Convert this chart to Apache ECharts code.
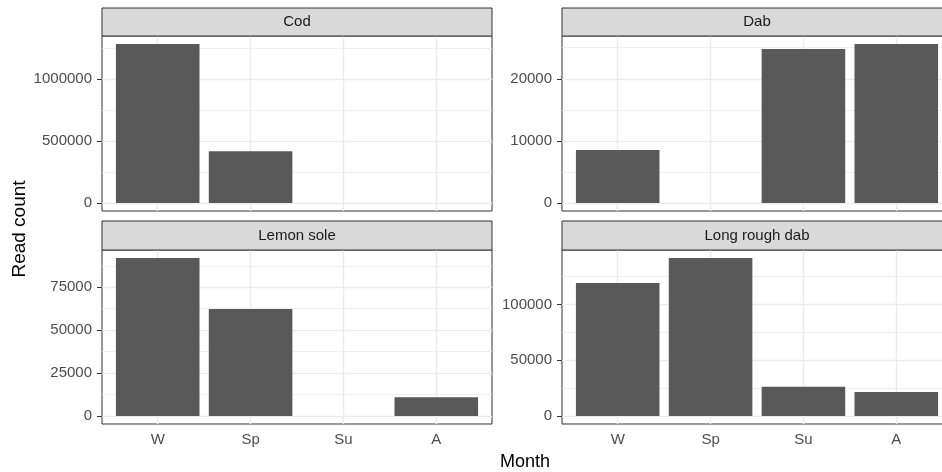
<!DOCTYPE html>
<html>
<head>
<meta charset="utf-8">
<title>Read count by month</title>
<script src="https://cdn.jsdelivr.net/npm/echarts@6/dist/echarts.min.js"></script>
<style>
  html, body { margin: 0; padding: 0; background: #fff; }
  #chart { width: 942px; height: 472px; }
</style>
</head>
<body>
<div id="chart"></div>
<script>
// Season categories shared by all facets
const months = ['W', 'Sp', 'Su', 'A'];
const species = ['Cod', 'Dab', 'Lemon sole', 'Long rough dab'];

// Read counts per season, one array per species
const codReads = [1285000, 418000, 0, 0];
const dabReads = [8550, 0, 24800, 25600];
const lemonSoleReads = [92100, 62300, 0, 11000];
const longRoughDabReads = [119200, 141600, 26300, 21500];

// Y-axis break values per facet
const codTicks = [0, 500000, 1000000];
const dabTicks = [0, 10000, 20000];
const lemonSoleTicks = [0, 25000, 50000, 75000];
const longRoughDabTicks = [0, 50000, 100000];

const readsBySpecies = [codReads, dabReads, lemonSoleReads, longRoughDabReads];
const ticksBySpecies = [codTicks, dabTicks, lemonSoleTicks, longRoughDabTicks];

// Facet geometry (pixels); the right column runs past the canvas edge
const panels = [
  { left: 102, top: 36, width: 390, height: 175, stripTop: 8, bottomRow: false },
  { left: 562, top: 36, width: 390, height: 175, stripTop: 8, bottomRow: false },
  { left: 102, top: 250, width: 390, height: 174, stripTop: 221, bottomRow: true },
  { left: 562, top: 250, width: 390, height: 174, stripTop: 221, bottomRow: true }
];

const FONT = '"Liberation Sans", Arial, sans-serif';
const TICK_COLOR = '#4d4d4d';
const LINE_DARK = '#333333';
const GRID_COLOR = '#ebebeb';

const grids = [], xAxes = [], yAxes = [], series = [], graphics = [];

panels.forEach((p, k) => {
  const values = readsBySpecies[k];
  const ticks = ticksBySpecies[k];
  const top = Math.max(...values);
  const yMin = -0.05 * top;
  const yMax = 1.05 * top;

  grids.push({
    left: p.left, top: p.top, width: p.width, height: p.height,
    outerBoundsMode: 'none', containLabel: false,
    show: true, backgroundColor: '#ffffff',
    borderColor: LINE_DARK, borderWidth: 1
  });

  const xTick = p.bottomRow
    ? { show: true, length: 4, lineStyle: { color: LINE_DARK, width: 1 }, customValues: months.map((m, i) => i + 1) }
    : { show: false };
  const xLabel = p.bottomRow
    ? {
        show: true, margin: 8, color: TICK_COLOR, fontFamily: FONT, fontSize: 15,
        customValues: months.map((m, i) => i + 1),
        formatter: v => months[Math.round(v) - 1] || ''
      }
    : { show: false };

  xAxes.push({
    gridIndex: k, type: 'value', min: 0.4, max: 4.6,
    splitLine: { show: false },
    axisLine: { show: false },
    axisTick: xTick,
    axisLabel: xLabel
  });

  yAxes.push({
    gridIndex: k, type: 'value', min: yMin, max: yMax,
    splitLine: { show: false },
    axisLine: { show: false },
    axisTick: {
      show: true, length: 5,
      lineStyle: { color: LINE_DARK, width: 1 },
      customValues: ticks
    },
    axisLabel: {
      margin: 10, color: TICK_COLOR, fontFamily: FONT, fontSize: 15,
      customValues: ticks,
      formatter: v => String(Math.round(v))
    }
  });

  // Panel grid lines: major at breaks and categories, minor halfway between breaks
  const step = ticks[1] - ticks[0];
  const minor = [];
  for (let v = ticks[0] - step / 2; v <= yMax; v += step) {
    if (v >= yMin) minor.push(v);
  }
  const lineData = [];
  minor.forEach(v => lineData.push({ yAxis: v, lineStyle: { color: GRID_COLOR, width: 0.8, type: 'solid' } }));
  ticks.forEach(v => lineData.push({ yAxis: v, lineStyle: { color: GRID_COLOR, width: 1.4, type: 'solid' } }));
  months.forEach((m, i) => lineData.push({ xAxis: i + 1, lineStyle: { color: GRID_COLOR, width: 1.4, type: 'solid' } }));

  series.push({
    type: 'line', xAxisIndex: k, yAxisIndex: k, data: [], z: 1,
    silent: true,
    markLine: {
      z: 1, silent: true, symbol: 'none', animation: false,
      label: { show: false },
      data: lineData
    }
  });

  series.push({
    type: 'bar', name: species[k], xAxisIndex: k, yAxisIndex: k, z: 3,
    barWidth: '90%',
    itemStyle: { color: '#595959' },
    data: values.map((v, i) => [i + 1, v])
  });

  // Facet strip
  graphics.push({
    type: 'rect', z: 10,
    shape: { x: p.left, y: p.stripTop, width: p.width, height: p.top - p.stripTop },
    style: { fill: '#d9d9d9', stroke: LINE_DARK, lineWidth: 1 }
  });
  graphics.push({
    type: 'text', z: 11,
    x: p.left + p.width / 2,
    y: (p.stripTop + p.top) / 2,
    style: {
      text: species[k], fill: '#1a1a1a', font: '15px ' + FONT,
      textAlign: 'center', textVerticalAlign: 'middle'
    }
  });
});

// Axis titles
graphics.push({
  type: 'text', x: 20, y: 229, rotation: Math.PI / 2,
  style: { text: 'Read count', fill: '#000', font: '19px ' + FONT, textAlign: 'center', textVerticalAlign: 'middle' }
});
graphics.push({
  type: 'text', x: 525, y: 462,
  style: { text: 'Month', fill: '#000', font: '18px ' + FONT, textAlign: 'center', textVerticalAlign: 'middle' }
});

const chart = echarts.init(document.getElementById('chart'), null, { renderer: 'canvas' });
chart.setOption({
  animation: false,
  backgroundColor: '#ffffff',
  grid: grids,
  xAxis: xAxes,
  yAxis: yAxes,
  series: series,
  graphic: graphics
});
</script>
</body>
</html>
